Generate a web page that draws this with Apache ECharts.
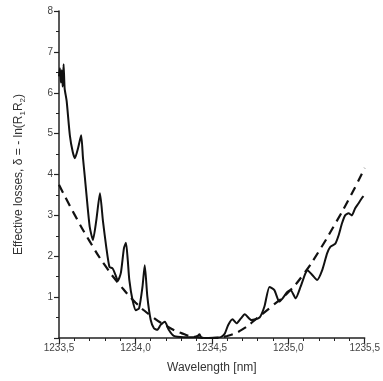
<!DOCTYPE html>
<html>
<head>
<meta charset="utf-8">
<script src="https://cdn.jsdelivr.net/npm/echarts@6/dist/echarts.min.js"></script>
<style>html,body{margin:0;padding:0;background:#fff}#c{width:383px;height:381px}</style>
</head>
<body>
<div id="c"></div>
<script>
// Measured effective losses (solid line): wavelength [nm], loss
var measuredX = [1233.500,1233.506,1233.512,1233.518,1233.524,1233.530,1233.537,1233.550,1233.571,1233.590,1233.604,1233.625,1233.645,1233.657,1233.668,1233.679,1233.701,1233.722,1233.744,1233.768,1233.787,1233.809,1233.830,1233.851,1233.869,1233.885,1233.905,1233.925,1233.938,1233.950,1233.960,1233.981,1234.003,1234.024,1234.046,1234.061,1234.078,1234.100,1234.121,1234.143,1234.165,1234.193,1234.218,1234.251,1234.316,1234.380,1234.406,1234.419,1234.432,1234.477,1234.542,1234.563,1234.585,1234.607,1234.635,1234.661,1234.690,1234.715,1234.758,1234.812,1234.844,1234.877,1234.909,1234.941,1234.963,1234.995,1235.016,1235.048,1235.080,1235.112,1235.125,1235.157,1235.189,1235.222,1235.254,1235.275,1235.308,1235.330,1235.351,1235.372,1235.394,1235.416,1235.437,1235.459,1235.481,1235.492];
var measuredY = [6.40,6.60,6.25,6.55,6.15,6.70,6.10,5.80,4.96,4.55,4.40,4.65,4.96,4.40,3.98,3.54,2.72,2.40,2.88,3.54,2.88,2.23,1.74,1.70,1.55,1.40,1.60,2.20,2.33,1.90,1.42,0.93,0.68,0.73,1.25,1.78,1.01,0.44,0.24,0.20,0.32,0.40,0.20,0.05,0.02,0.02,0.05,0.09,0.01,0.00,0.01,0.03,0.11,0.32,0.46,0.36,0.48,0.58,0.44,0.50,0.77,1.25,1.17,0.89,0.97,1.13,1.17,0.97,1.25,1.58,1.66,1.54,1.42,1.66,2.07,2.23,2.31,2.52,2.80,3.00,3.05,3.00,3.17,3.29,3.42,3.47];
// Fitted curve (dashed line)
var fitX = [1233.5,1233.6,1233.7,1233.8,1233.9,1234.0,1234.1,1234.2,1234.3,1234.4,1234.5,1234.6,1234.7,1234.8,1234.9,1235.0,1235.1,1235.2,1235.3,1235.4,1235.5];
var fitY = [3.75,3.03,2.37,1.78,1.29,0.87,0.55,0.30,0.12,0.02,0.00,0.05,0.21,0.50,0.80,1.12,1.56,2.12,2.75,3.42,4.16];
var yTickLabels = ['', '1','2','3','4','5','6','7','8'];

function pairs(xs, ys){ return xs.map(function(x,i){ return [x, ys[i]]; }); }

var chart = echarts.init(document.getElementById('c'));
var font = 'Liberation Sans, Arial, sans-serif';
chart.setOption({
  animation: false,
  backgroundColor: '#ffffff',
  grid: {left: 59, right: 15, top: 11, bottom: 43},
  xAxis: {
    type: 'value', min: 1233.5, max: 1235.5, interval: 0.5,
    name: 'Wavelength [nm]', nameLocation: 'middle', nameGap: 24,
    nameTextStyle: {fontFamily: font, fontSize: 12, color: '#333'},
    axisLine: {show: true, lineStyle: {color: '#222', width: 1.5}},
    axisTick: {show: true, inside: false, length: 6, lineStyle: {color: '#222', width: 1.2}},
    minorTick: {show: true, splitNumber: 5, length: 3, lineStyle: {color: '#222', width: 1}},
    splitLine: {show: false},
    axisLabel: {fontFamily: font, fontSize: 10, color: '#444', margin: 5,
      formatter: function(v){ return v.toFixed(1).replace('.', ','); }}
  },
  yAxis: {
    type: 'value', min: 0, max: 8, interval: 1,
    name: 'Effective losses, δ = - ln(R{s|1}R{s|2})', nameLocation: 'middle', nameGap: 32, nameRotate: 90,
    nameTextStyle: {fontFamily: font, fontSize: 12, color: '#333',
      rich: {s: {fontFamily: font, fontSize: 8, color: '#333', verticalAlign: 'bottom', padding: [8,0,0,0]}}},
    axisLine: {show: true, lineStyle: {color: '#222', width: 1.5}},
    axisTick: {show: true, inside: false, length: 5, lineStyle: {color: '#222', width: 1.2}},
    minorTick: {show: true, splitNumber: 2, length: 3, lineStyle: {color: '#222', width: 1}},
    splitLine: {show: false},
    axisLabel: {fontFamily: font, fontSize: 10, color: '#444', margin: 6,
      formatter: function(v){ return yTickLabels[Math.round(v)] || ''; }}
  },
  series: [
    {type: 'line', data: pairs(fitX, fitY), smooth: true, showSymbol: false,
      lineStyle: {color: '#111', width: 2.2, type: [9, 6]}},
    {type: 'line', data: pairs(measuredX, measuredY), smooth: 0.2, showSymbol: false,
      lineStyle: {color: '#111', width: 2}}
  ]
});
</script>
</body>
</html>
